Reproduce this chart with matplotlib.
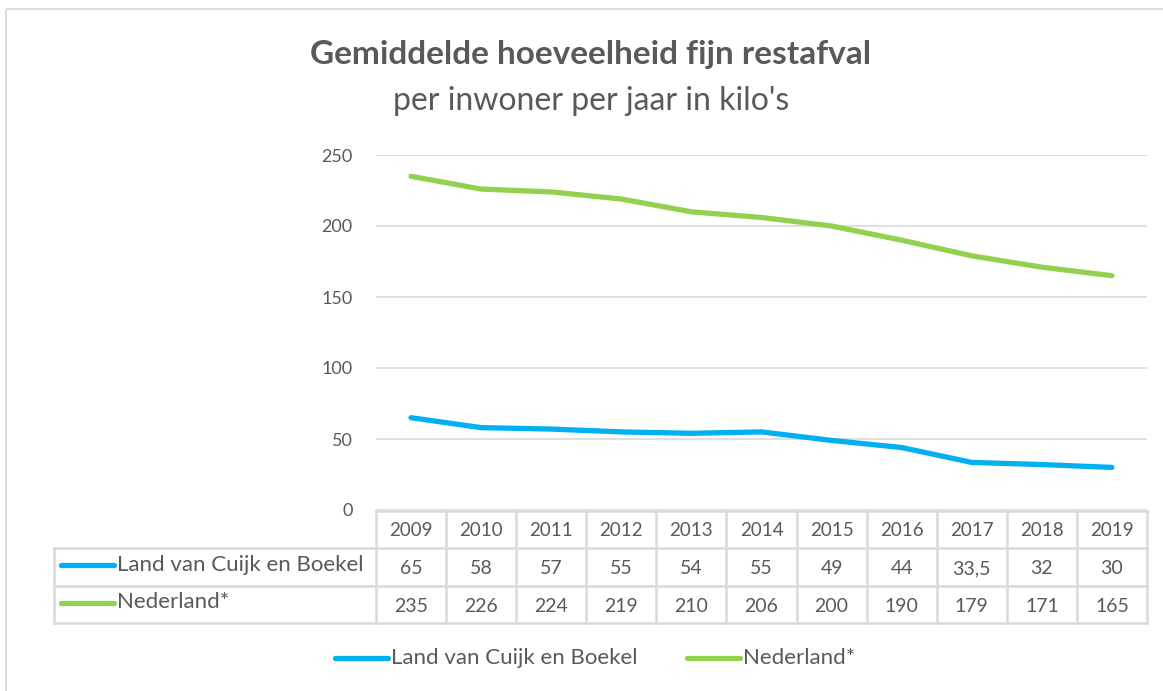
import matplotlib
matplotlib.use("Agg")
import matplotlib.pyplot as plt
from matplotlib.lines import Line2D
from matplotlib.patches import Rectangle

# data
years = ['2009', '2010', '2011', '2012', '2013', '2014', '2015', '2016', '2017', '2018', '2019']
cuijk = [65, 58, 57, 55, 54, 55, 49, 44, 33.5, 32, 30]
nederland = [235, 226, 224, 219, 210, 206, 200, 190, 179, 171, 165]
cuijk_labels = ['65', '58', '57', '55', '54', '55', '49', '44', '33,5', '32', '30']
nl_labels = ['235', '226', '224', '219', '210', '206', '200', '190', '179', '171', '165']
series_names = ['Land van Cuijk en Boekel', 'Nederland*']
y_ticks = [0, 50, 100, 150, 200, 250]

BLUE = '#00B0F0'
GREEN = '#92D050'
TXT = '#595959'
GRID = '#D9D9D9'
W, H = 1163, 691

plt.rcParams['font.family'] = ['Lato', 'DejaVu Sans']

fig = plt.figure(figsize=(W / 100, H / 100), dpi=100)

# plot area (pixel layout)
px_l, px_r, px_top, px_bot = 376, 1147, 155, 510
ax = fig.add_axes([px_l / W, 1 - px_bot / H, (px_r - px_l) / W, (px_bot - px_top) / H])
x = list(range(len(years)))
ax.plot(x, cuijk, color=BLUE, lw=3.8, solid_capstyle='round', zorder=3)
ax.plot(x, nederland, color=GREEN, lw=3.8, solid_capstyle='round', zorder=3)
ax.set_xlim(-0.5, len(years) - 0.5)
ax.set_ylim(0, 250)
ax.set_yticks(y_ticks)
ax.set_xticks([])
ax.grid(axis='y', color=GRID, lw=1.2)
ax.set_axisbelow(True)
for s in ax.spines.values():
    s.set_visible(False)
ax.tick_params(axis='y', length=0, pad=17, labelsize=13, labelcolor=TXT)

# overlay in pixel coordinates for title, table, legend, border
ov = fig.add_axes([0, 0, 1, 1], zorder=5)
ov.set_xlim(0, W)
ov.set_ylim(H, 0)
ov.axis('off')
ov.patch.set_alpha(0)

ov.add_patch(Rectangle((6, 9), W + 20, H + 20, fill=False, ec=GRID, lw=1.3))

ov.text(591, 54, 'Gemiddelde hoeveelheid fijn restafval', ha='center', va='center',
        fontsize=24, fontweight='bold', color=TXT)
ov.text(591, 101, "per inwoner per jaar in kilo's", ha='center', va='center',
        fontsize=23, color=TXT)

# data table
n = len(years)
cw = (px_r - px_l) / n
r0, r1, r2, r3 = 511, 548, 586, 623
tl = 54
lc = dict(color=GRID, lw=1.8)
ov.add_line(Line2D([px_l, px_r], [r0, r0], **lc))
ov.add_line(Line2D([tl, px_r], [r1, r1], **lc))
ov.add_line(Line2D([tl, px_r], [r2, r2], **lc))
ov.add_line(Line2D([tl, px_r], [r3, r3], **lc))
ov.add_line(Line2D([tl, tl], [r1, r3], **lc))
for i in range(n + 1):
    xe = px_l + i * cw
    ov.add_line(Line2D([xe, xe], [r0, r3], **lc))
for i in range(n):
    xc = px_l + (i + 0.5) * cw
    ov.text(xc, (r0 + r1) / 2 + 1, years[i], ha='center', va='center', fontsize=13.5, color=TXT)
    ov.text(xc, (r1 + r2) / 2 + 2, cuijk_labels[i], ha='center', va='center', fontsize=14, color=TXT)
    ov.text(xc, (r2 + r3) / 2 + 2, nl_labels[i], ha='center', va='center', fontsize=14, color=TXT)

for row, (name, col) in enumerate(zip(series_names, [BLUE, GREEN])):
    yc = (r1 + r2) / 2 if row == 0 else (r2 + r3) / 2
    yc -= 2
    ov.add_line(Line2D([61, 114], [yc, yc], color=col, lw=3.8, solid_capstyle='round'))
    ov.text(117, yc, name, ha='left', va='center', fontsize=16, color=TXT)

# legend
ly = 658
for name, col, x0 in zip(series_names, [BLUE, GREEN], [335, 687]):
    ov.add_line(Line2D([x0, x0 + 53], [ly, ly], color=col, lw=3.8, solid_capstyle='round'))
    ov.text(x0 + 56, ly, name, ha='left', va='center', fontsize=16, color=TXT)

fig.savefig('out.png', dpi=100, facecolor='white')
